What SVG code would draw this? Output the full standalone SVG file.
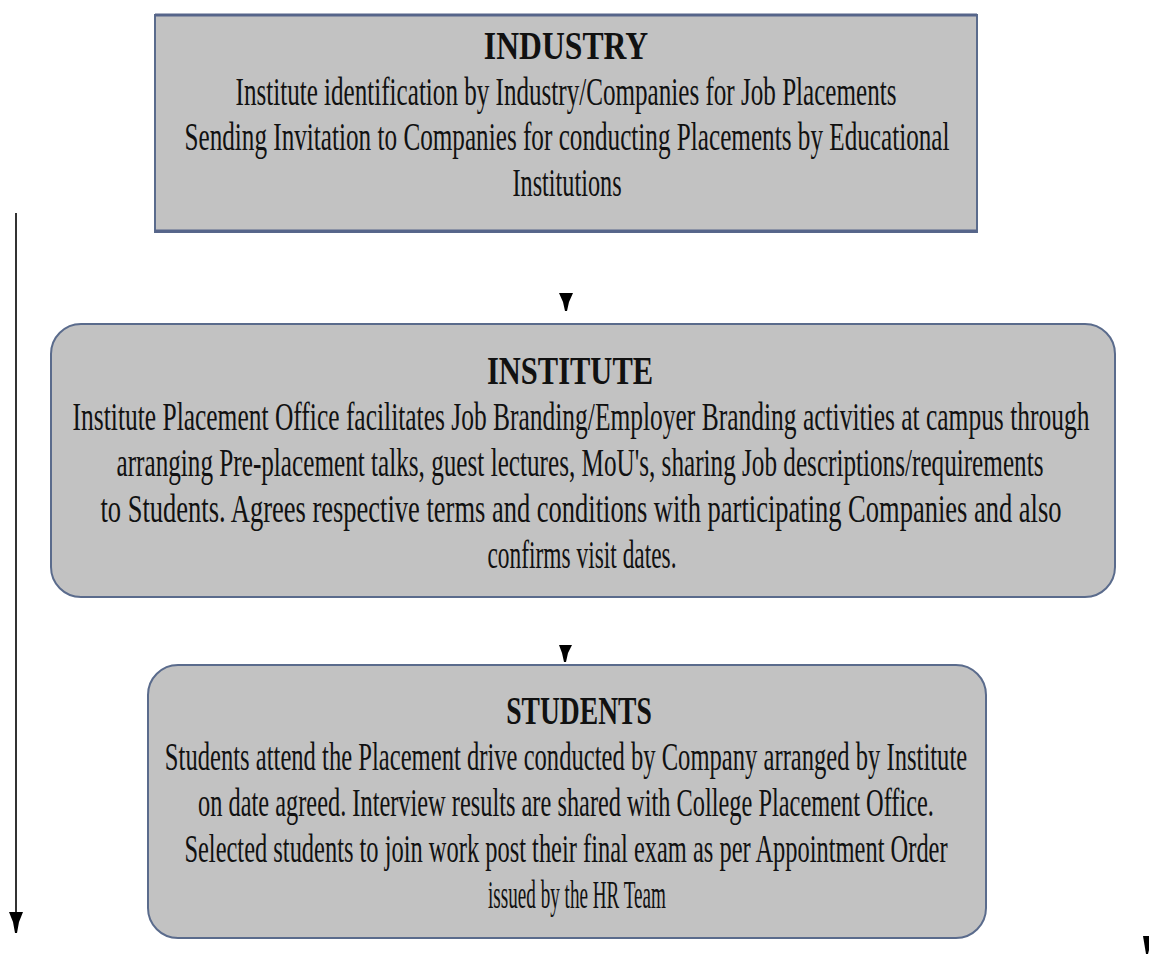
<svg xmlns="http://www.w3.org/2000/svg" width="1149" height="954" viewBox="0 0 1149 954">
<style>
.box{fill:#c2c2c2;stroke:#5a6b8c;stroke-width:2}
.t{font-family:"Liberation Serif","DejaVu Serif",serif;font-size:40px;fill:#111;text-anchor:middle}
.h{font-weight:bold}
.ln{stroke:#333;stroke-width:2;fill:none}
.ah{fill:#000}
</style>
<rect width="1149" height="954" fill="#fff"/>
<g id="industry">
<rect class="box" x="155" y="15" width="822" height="217"/>
<line x1="155" y1="15" x2="977" y2="15" stroke="#56658a" stroke-width="3"/>
<line x1="155" y1="231" x2="977" y2="231" stroke="#56658a" stroke-width="3"/>
<text class="t h" transform="translate(566,59) scale(0.62,1)" textLength="265" lengthAdjust="spacingAndGlyphs">INDUSTRY</text>
<text class="t" transform="translate(566,105) scale(0.62,1)" textLength="1066" lengthAdjust="spacingAndGlyphs">Institute identification by Industry/Companies for Job Placements</text>
<text class="t" transform="translate(567,150) scale(0.62,1)" textLength="1234" lengthAdjust="spacingAndGlyphs">Sending Invitation to Companies for conducting Placements by Educational</text>
<text class="t" transform="translate(567,196) scale(0.62,1)" textLength="176" lengthAdjust="spacingAndGlyphs">Institutions</text>
</g>
<g id="institute">
<rect class="box" x="51" y="324" width="1064" height="273" rx="30" ry="30"/>
<text class="t h" transform="translate(570,384) scale(0.62,1)" textLength="268" lengthAdjust="spacingAndGlyphs">INSTITUTE</text>
<text class="t" transform="translate(581,430) scale(0.62,1)" textLength="1640" lengthAdjust="spacingAndGlyphs">Institute Placement Office facilitates Job Branding/Employer Branding activities at campus through</text>
<text class="t" transform="translate(580,476) scale(0.62,1)" textLength="1495" lengthAdjust="spacingAndGlyphs">arranging Pre-placement talks, guest lectures, MoU's, sharing Job descriptions/requirements</text>
<text class="t" transform="translate(581,522) scale(0.62,1)" textLength="1550" lengthAdjust="spacingAndGlyphs">to Students. Agrees respective terms and conditions with participating Companies and also</text>
<text class="t" transform="translate(582,568) scale(0.62,1)" textLength="305" lengthAdjust="spacingAndGlyphs">confirms visit dates.</text>
</g>
<g id="students">
<rect class="box" x="148" y="665" width="838" height="273" rx="30" ry="30"/>
<text class="t h" transform="translate(579,724) scale(0.62,1)" textLength="235" lengthAdjust="spacingAndGlyphs">STUDENTS</text>
<text class="t" transform="translate(566,770) scale(0.62,1)" textLength="1294" lengthAdjust="spacingAndGlyphs">Students attend the Placement drive conducted by Company arranged by Institute</text>
<text class="t" transform="translate(566,816) scale(0.62,1)" textLength="1187" lengthAdjust="spacingAndGlyphs">on date agreed. Interview results are shared with College Placement Office.</text>
<text class="t" transform="translate(566,862) scale(0.62,1)" textLength="1231" lengthAdjust="spacingAndGlyphs">Selected students to join work post their final exam as per Appointment Order</text>
<text class="t" transform="translate(577,908) scale(0.62,1)" textLength="287" lengthAdjust="spacingAndGlyphs">issued by the HR Team</text>
</g>
<g id="connectors">
<polygon class="ah" points="559,293 573,293 569,302 567,311 565,311 563,302"/>
<polygon class="ah" points="559,645 572,645 568,653 566,662 564,662 562,653"/>
<line class="ln" x1="16" y1="213" x2="16" y2="914"/>
<polygon class="ah" points="9,912 23,912 19,922 17,933 15,933 13,922"/>
<polygon class="ah" points="1143,936 1152,936 1150,946 1148,954 1146,954"/>
</g>
</svg>
